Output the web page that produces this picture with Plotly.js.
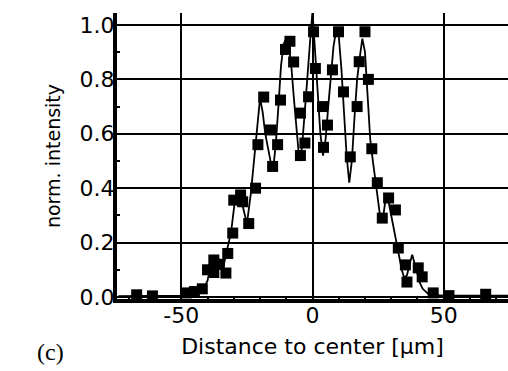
<!DOCTYPE html>
<html>
<head>
<meta charset="utf-8">
<script src="https://cdn.plot.ly/plotly-3.0.1.min.js"></script>
<style>html,body{margin:0;padding:0;background:#fff;}#chart{width:508px;height:371px;}</style>
</head>
<body>
<div id="chart"></div>
<script>
// Measured points (square markers)
const markerX = [-67, -61, -48, -45, -42, -40, -37.6, -37.6, -35.5, -33, -32.3, -30.4, -30, -27.4, -26.6, -24.3, -21.7, -20.8, -18.6, -16, -15.2, -13.3, -12.2, -10.3, -8.6, -7.2, -4.6, -4.6, -2.9, -1.5, 0.4, 1.1, 3.8, 4.2, 5.7, 7.6, 9.9, 11.8, 14.4, 17, 17.8, 20, 21.3, 22.6, 24.7, 26.6, 29, 31.6, 32.7, 35.4, 36, 40.3, 41.8, 46, 52, 66];
const markerY = [0.008, 0.004, 0.015, 0.02, 0.03, 0.10, 0.136, 0.09, 0.12, 0.088, 0.16, 0.235, 0.356, 0.375, 0.35, 0.27, 0.40, 0.56, 0.735, 0.614, 0.48, 0.56, 0.724, 0.91, 0.94, 0.864, 0.676, 0.52, 0.566, 0.736, 0.975, 0.84, 0.70, 0.55, 0.632, 0.835, 0.975, 0.754, 0.515, 0.70, 0.865, 0.975, 0.80, 0.545, 0.42, 0.29, 0.364, 0.32, 0.18, 0.118, 0.055, 0.107, 0.074, 0.015, 0.005, 0.01];

// Oscillating curve (thin line)
const lineX = [-74, -60, -50, -44, -42, -40, -38.5, -37, -35.5, -34, -32.5, -31, -29.5, -28, -26.5, -25, -23.5, -22, -21, -20,
  -19, -18, -17, -16, -15, -14, -13, -12, -11, -10, -9, -8, -7, -6, -5, -4, -3, -2, -1, 0,
  1, 2, 3, 4, 5, 6, 7, 8, 9, 10, 11, 12, 13, 14, 15, 16, 17, 18, 19, 20,
  21, 22, 23, 24, 25, 26, 27, 28, 29, 30, 31, 32, 33, 34, 35, 36, 37, 38, 39, 40, 41, 42,
  44, 46, 50, 60, 75];
const lineY = [0.003, 0.003, 0.005, 0.01, 0.02, 0.06, 0.13, 0.10, 0.14, 0.11, 0.17, 0.24, 0.36, 0.39, 0.33, 0.27, 0.38, 0.52, 0.62, 0.73,
  0.68, 0.60, 0.55, 0.50, 0.47, 0.56, 0.70, 0.85, 0.93, 0.95, 0.92, 0.84, 0.72, 0.60, 0.50, 0.55, 0.66, 0.80, 0.93, 1.05,
  0.90, 0.74, 0.60, 0.52, 0.58, 0.70, 0.82, 0.92, 0.98, 0.96, 0.84, 0.68, 0.52, 0.42, 0.50, 0.66, 0.80, 0.88, 0.95, 0.90,
  0.75, 0.58, 0.50, 0.42, 0.34, 0.28, 0.30, 0.37, 0.35, 0.30, 0.25, 0.19, 0.14, 0.10, 0.07, 0.08, 0.12, 0.155, 0.12, 0.08, 0.05, 0.03,
  0.012, 0.008, 0.005, 0.005, 0.005];

const xTickVals = [-50, 0, 50];
const xTickText = ['-50', '0', '50'];
const yTickVals = [0.0, 0.2, 0.4, 0.6, 0.8, 1.0];
const yTickText = ['0.0', '0.2', '0.4', '0.6', '0.8', '1.0'];

const FONT = 'DejaVu Sans, Liberation Sans, Arial, sans-serif';

const traces = [
  {
    x: lineX, y: lineY, type: 'scatter', mode: 'lines',
    line: {color: '#000', width: 1.8}, hoverinfo: 'skip', cliponaxis: true
  },
  {
    x: markerX, y: markerY, type: 'scatter', mode: 'markers',
    marker: {symbol: 'square', size: 11, color: '#000', line: {width: 0}}
  }
];

const layout = {
  width: 508, height: 371,
  margin: {l: 117, r: 0, t: 13, b: 72},
  paper_bgcolor: '#fff', plot_bgcolor: '#fff',
  showlegend: false,
  font: {family: FONT, color: '#000', size: 22},
  xaxis: {
    range: [-74.5, 74.5],
    tickvals: xTickVals, ticktext: xTickText,
    ticks: 'inside', ticklen: 6, tickwidth: 2, tickcolor: '#000',
    ticklabelstandoff: -6,
    showgrid: true, gridcolor: '#000', gridwidth: 2,
    zeroline: false,
    showline: true, linecolor: '#000', linewidth: 4, mirror: false,
    tickfont: {family: FONT, size: 22, color: '#000'},
    minor: {dtick: 10, tick0: 0, ticks: 'inside', ticklen: 3, tickwidth: 2, tickcolor: '#000', showgrid: false},
    title: {text: 'Distance to center [µm]', font: {family: FONT, size: 22, color: '#000'}, standoff: 12}
  },
  yaxis: {
    range: [-0.0074, 1.044],
    tickvals: yTickVals, ticktext: yTickText,
    ticks: 'inside', ticklen: 6, tickwidth: 2, tickcolor: '#000',
    ticklabelstandoff: -6,
    showgrid: true, gridcolor: '#000', gridwidth: 2,
    zeroline: false,
    showline: true, linecolor: '#000', linewidth: 4, mirror: false,
    tickfont: {family: FONT, size: 22, color: '#000'},
    minor: {dtick: 0.1, tick0: 0, ticks: 'inside', ticklen: 3, tickwidth: 2, tickcolor: '#000', showgrid: false},
    title: {text: 'norm. intensity', font: {family: FONT, size: 19, color: '#000'}, standoff: 15}
  },
  annotations: [
    {text: '(c)', xref: 'paper', yref: 'paper', x: -0.171, y: -0.185,
     xanchor: 'center', yanchor: 'middle', showarrow: false,
     font: {family: 'Liberation Serif, Times New Roman, serif', size: 24, color: '#000'}}
  ]
};

Plotly.newPlot('chart', traces, layout, {displayModeBar: false, staticPlot: true});
</script>
</body>
</html>
